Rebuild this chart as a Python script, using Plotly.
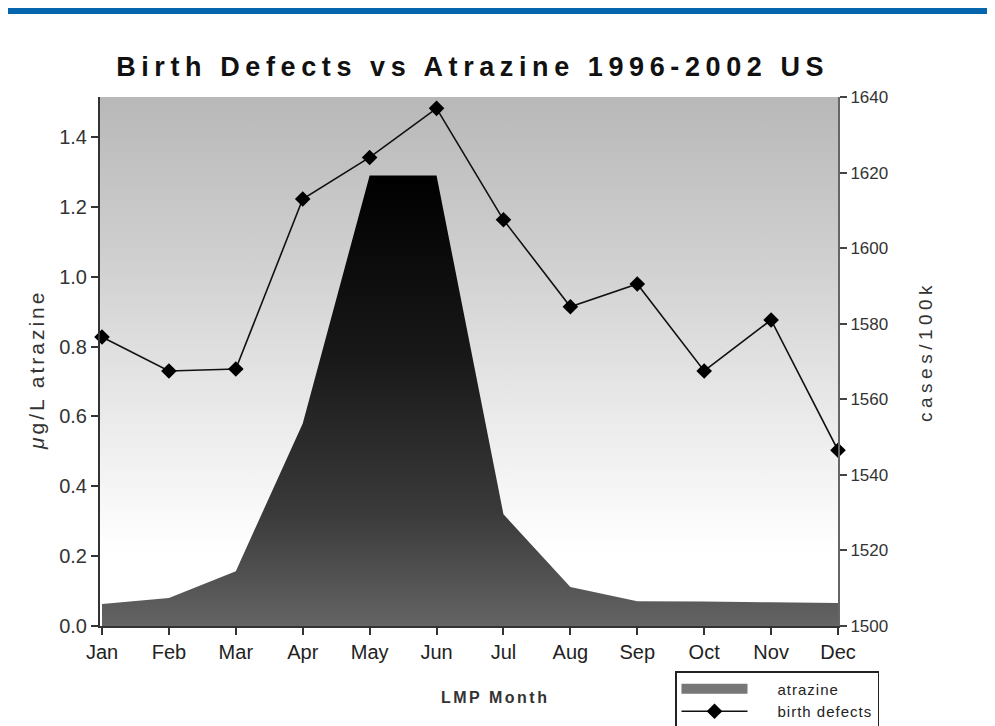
import base64

import plotly.graph_objects as go

months = ["Jan", "Feb", "Mar", "Apr", "May", "Jun",
          "Jul", "Aug", "Sep", "Oct", "Nov", "Dec"]
atrazine = [0.063, 0.08, 0.157, 0.58, 1.29, 1.29,
            0.32, 0.112, 0.071, 0.07, 0.068, 0.066]
birth_defects = [1576.5, 1567.5, 1568, 1613, 1624, 1637,
                 1607.5, 1584.5, 1590.5, 1567.5, 1581, 1546.5]

x_range = [-0.03, 11.0]
y1_range = [0, 1.5145]
y2_range = [1500, 1640]

base_font = "Liberation Sans, Arial, sans-serif"

# the page body adds an 8px margin, so the figure is drawn 8px smaller
PAGE_OFF = 8
FIG_W, FIG_H = 995 - PAGE_OFF, 726 - PAGE_OFF
PLOT_L, PLOT_T, PLOT_W, PLOT_H = 100 - PAGE_OFF, 97 - PAGE_OFF, 738, 529


def spaced(text, px):
    return f'<span style="letter-spacing:{px}px">{text}</span>'


def page_to_paper(px, py):
    fx = px - PAGE_OFF
    fy = py - PAGE_OFF
    return (fx - PLOT_L) / PLOT_W, (PLOT_T + PLOT_H - fy) / PLOT_H


# plot background: grey at the top fading to white near the bottom
bg_svg = (
    '<svg xmlns="http://www.w3.org/2000/svg" width="10" height="100" '
    'viewBox="0 0 10 100" preserveAspectRatio="none">'
    '<defs><linearGradient id="g" x1="0" y1="0" x2="0" y2="1">'
    '<stop offset="0" stop-color="#b8b8b8"/>'
    '<stop offset="0.3" stop-color="#cfcfcf"/>'
    '<stop offset="0.6" stop-color="#eaeaea"/>'
    '<stop offset="0.86" stop-color="#ffffff"/>'
    '<stop offset="1" stop-color="#ffffff"/>'
    '</linearGradient></defs>'
    '<rect width="10" height="100" fill="url(#g)"/></svg>'
)
bg_src = "data:image/svg+xml;base64," + base64.b64encode(bg_svg.encode()).decode()

fig = go.Figure()

fig.add_trace(go.Scatter(
    x=months, y=atrazine, name="atrazine",
    mode="none", fill="tozeroy",
    fillcolor="#777777",
    fillgradient=dict(type="vertical",
                      colorscale=[[0, "#646464"], [0.25, "#3a3a3a"],
                                  [0.6, "#181818"], [1, "#000000"]]),
    showlegend=False,
))

# legend entry for the area, drawn as a thick grey bar
pad = "\u00a0" * 6
fig.add_trace(go.Scatter(
    x=[None], y=[None], name=pad + spaced("atrazine", 1),
    mode="lines", line=dict(color="#777777", width=12),
))

fig.add_trace(go.Scatter(
    x=months, y=birth_defects, name=pad + spaced("birth defects", 1),
    yaxis="y2", mode="lines+markers",
    line=dict(color="#111111", width=1.6),
    marker=dict(symbol="diamond", size=12, color="#000000"),
    cliponaxis=False,
))

leg_x, leg_y = page_to_paper(675, 671)

fig.update_layout(
    width=FIG_W, height=FIG_H,
    margin=dict(l=PLOT_L, r=FIG_W - PLOT_L - PLOT_W, t=PLOT_T,
                b=FIG_H - PLOT_T - PLOT_H, autoexpand=False),
    paper_bgcolor="white", plot_bgcolor="rgba(0,0,0,0)",
    font=dict(family=base_font, color="#222222"),
    title=dict(
        text="<b>" + spaced("Birth Defects vs Atrazine 1996-2002 US", 5.6) + "</b>",
        font=dict(size=27, color="#111111"),
        x=0.505, xanchor="center", xref="paper",
        y=1 - (67 - PAGE_OFF) / FIG_H, yanchor="middle", yref="container",
    ),
    xaxis=dict(
        type="category", range=x_range, showgrid=False, zeroline=False,
        showline=True, linecolor="#333333", linewidth=2,
        ticks="outside", ticklen=7, tickwidth=2, tickcolor="#333333",
        tickfont=dict(size=20, color="#222222"),
    ),
    yaxis=dict(
        range=y1_range, showgrid=False, zeroline=False,
        showline=True, linecolor="#333333", linewidth=2,
        ticks="outside", ticklen=7, tickwidth=2, tickcolor="#333333",
        tickvals=[0, 0.2, 0.4, 0.6, 0.8, 1.0, 1.2, 1.4],
        ticktext=["0.0", "0.2", "0.4", "0.6", "0.8", "1.0", "1.2", "1.4"],
        tickfont=dict(size=20, color="#333333"),
    ),
    yaxis2=dict(
        range=y2_range, overlaying="y", side="right",
        showgrid=False, zeroline=False,
        showline=True, linecolor="#666666", linewidth=2,
        ticks="outside", ticklen=7, tickwidth=2, tickcolor="#444444",
        dtick=20, tickfont=dict(size=17, color="#333333"),
    ),
    showlegend=True,
    legend=dict(
        x=leg_x, y=leg_y, xanchor="left", yanchor="top",
        bgcolor="white", bordercolor="#222222", borderwidth=1.5,
        font=dict(size=15, color="#222222"),
        itemwidth=66, tracegroupgap=0,
    ),
    images=[dict(source=bg_src, xref="paper", yref="paper", x=0, y=1,
                 sizex=1, sizey=1, sizing="stretch", layer="below")],
    shapes=[
        dict(type="rect", xref="paper", yref="paper",
             xsizemode="pixel", ysizemode="pixel", xanchor=0, yanchor=1,
             x0=-PLOT_L, x1=FIG_W - PLOT_L, y0=PLOT_T - 6, y1=PLOT_T,
             fillcolor="#0566ae", line=dict(width=0), layer="above"),
    ],
)

# axis titles, placed by their centres in reference page pixels
for text, px, py, size, angle in [
    (spaced("<i>μ</i>g/L atrazine", 3), 36, 370, 21, -90),
    (spaced("cases/100k", 4.5), 925, 352, 19, -90),
    ("<b>" + spaced("LMP Month", 2.5) + "</b>", 495, 697, 16, 0),
]:
    ax, ay = page_to_paper(px, py)
    fig.add_annotation(text=text, x=ax, y=ay, xref="paper", yref="paper",
                       xanchor="center", yanchor="middle",
                       showarrow=False, textangle=angle,
                       font=dict(size=size, color="#333333"))

fig.write_html("out.html")
